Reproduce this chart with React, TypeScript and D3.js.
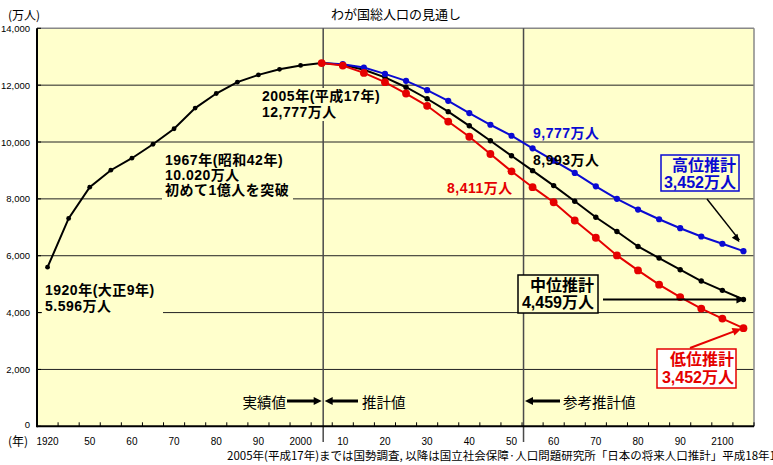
import React from "react";
import * as d3 from "d3";

// Census years (1920, 1940, then every 5 years) followed by projection years up to 2105
const years: string[] = [
  "1920", "1940", "1950", "1955", "1960", "1965", "1970", "1975", "1980", "1985",
  "1990", "1995", "2000", "2005", "2010", "2015", "2020", "2025", "2030", "2035",
  "2040", "2045", "2050", "2055", "2060", "2065", "2070", "2075", "2080", "2085",
  "2090", "2095", "2100", "2105",
];

// Census totals, 1920–2005 (万人)
const actual: number[] = [
  5596, 7311, 8412, 9008, 9430, 9921, 10467, 11194, 11706, 12105, 12361, 12557, 12693, 12777,
];

// Projections, 2005–2105 (万人)
const medium: number[] = [
  12777, 12718, 12543, 12274, 11927, 11522, 11068, 10570, 10044, 9515, 8993,
  8467, 7916, 7354, 6853, 6326, 5916, 5509, 5109, 4782, 4459,
];
const high: number[] = [
  12777, 12738, 12618, 12396, 12151, 11825, 11449, 11018, 10607, 10221, 9777,
  9344, 8912, 8442, 8000, 7625, 7284, 6968, 6677, 6421, 6161,
];
const low: number[] = [
  12777, 12690, 12431, 12105, 11706, 11274, 10720, 10186, 9579, 8969, 8411,
  7881, 7239, 6632, 6011, 5484, 4982, 4547, 4140, 3789, 3452,
];

const yTicks: number[] = [0, 2000, 4000, 6000, 8000, 10000, 12000, 14000];
const xTickYears: string[] = [
  "1920", "1950", "1960", "1970", "1980", "1990", "2000", "2010", "2020",
  "2030", "2040", "2050", "2060", "2070", "2080", "2090", "2100",
];
const xTickLabels: string[] = [
  "1920", "50", "60", "70", "80", "90", "2000", "10", "20",
  "30", "40", "50", "60", "70", "80", "90", "2100",
];

const W = 773;
const H = 465;
const PLOT_L = 37;
const PLOT_R = 754;
const PLOT_T = 28.3;
const PLOT_B = 426.3;

const BG = "#FFFFCC";
const BLUE = "#0A0AD2";
const RED = "#E50000";
const FONT = "'Liberation Sans', 'Noto Sans CJK JP', Arial, sans-serif";
const JFONT = "'Noto Sans CJK JP', 'Liberation Sans', sans-serif";

function head(tx: number, ty: number, fx: number, fy: number, len: number, half: number): string {
  const a = Math.atan2(ty - fy, tx - fx);
  const bx = tx - len * Math.cos(a);
  const by = ty - len * Math.sin(a);
  const px = -Math.sin(a) * half;
  const py = Math.cos(a) * half;
  return `${tx},${ty} ${bx + px},${by + py} ${bx - px},${by - py}`;
}

export default function App() {
  const x = d3.scalePoint<string>().domain(years).range([PLOT_L, PLOT_R]).padding(0.5);
  const y = d3.scaleLinear().domain([0, 14000]).range([PLOT_B, PLOT_T]);
  const step = x.step();
  const px = (k: string) => x(k) as number;

  const actualYears = years.slice(0, actual.length);
  const projYears = years.slice(actual.length - 1);

  const line = d3
    .line<[string, number]>()
    .x((d) => px(d[0]))
    .y((d) => y(d[1]));

  const zip = (ks: string[], vs: number[]) => ks.map((k, i) => [k, vs[i]] as [string, number]);
  const actualPts = zip(actualYears, actual);
  const medPts = zip(projYears, medium);
  const highPts = zip(projYears, high);
  const lowPts = zip(projYears, low);

  const vLine1 = px("2005") + 1.5;
  const vLine2 = px("2055") - step / 2 + 1.5;

  const lastYear = years[years.length - 1];
  const endX = px(lastYear);

  const boundaries = d3.range(years.length + 1).map((i) => PLOT_L + i * step);

  const annot = { fontFamily: FONT, fontWeight: 700, fontSize: 14, letterSpacing: 0.5 } as const;
  const boxText = { fontFamily: FONT, fontWeight: 700, fontSize: 16 } as const;

  return (
    <svg width={W} height={H} style={{ position: "absolute", left: 0, top: 0, background: "#fff" }}>
      {/* plot background */}
      <rect x={PLOT_L} y={PLOT_T} width={PLOT_R - PLOT_L} height={PLOT_B - PLOT_T} fill={BG} />

      {/* horizontal gridlines */}
      {yTicks.filter((t) => t > 0 && t < 14000).map((t) => (
        <line key={t} x1={PLOT_L} x2={PLOT_R} y1={y(t)} y2={y(t)} stroke="#222" strokeWidth={1} />
      ))}

      {/* top / right frame */}
      <line x1={PLOT_L} x2={PLOT_R} y1={PLOT_T} y2={PLOT_T} stroke="#888" strokeWidth={1.5} />
      <line x1={PLOT_R} x2={PLOT_R} y1={PLOT_T} y2={PLOT_B} stroke="#888" strokeWidth={1.5} />

      {/* period separators */}
      <line x1={vLine1} x2={vLine1} y1={PLOT_T} y2={442} stroke="#4a4a4a" strokeWidth={1.5} />
      <line x1={vLine2} x2={vLine2} y1={PLOT_T} y2={442} stroke="#4a4a4a" strokeWidth={1.5} />

      {/* y axis ticks & labels */}
      {yTicks.map((t) => (
        <g key={t}>
          <line x1={PLOT_L} x2={PLOT_L + 4} y1={y(t)} y2={y(t)} stroke="#000" strokeWidth={1} />
          <text x={30} y={t === 0 ? y(t) - 2 : y(t)} textAnchor="end" dominantBaseline="central" fontFamily={FONT} fontSize={9.5} fill="#000">
            {d3.format(",")(t)}
          </text>
        </g>
      ))}

      {/* x axis ticks & labels */}
      {boundaries.map((bx, i) => (
        <line key={i} x1={bx} x2={bx} y1={PLOT_B} y2={PLOT_B - 4} stroke="#000" strokeWidth={1} />
      ))}
      {xTickYears.map((k, i) => (
        <text key={k + i} x={px(k)} y={441} textAnchor="middle" dominantBaseline="central" fontFamily={FONT} fontSize={10} fill="#000">
          {xTickLabels[i]}
        </text>
      ))}

      {/* axes */}
      <line x1={PLOT_L} x2={PLOT_L} y1={PLOT_T} y2={PLOT_B + 1} stroke="#000" strokeWidth={2} />
      <line x1={PLOT_L} x2={PLOT_R} y1={PLOT_B} y2={PLOT_B} stroke="#000" strokeWidth={2} />

      <text x={8} y={14} fontFamily={JFONT} fontSize={12} dominantBaseline="central" fill="#000">(万人)</text>
      <text x={8} y={440} fontFamily={JFONT} fontSize={12} dominantBaseline="central" fill="#000">(年)</text>
      <text x={396} y={13} textAnchor="middle" dominantBaseline="central" fontFamily={JFONT} fontSize={13} fill="#000">
        わが国総人口の見通し
      </text>

      {/* annotation backgrounds */}
      <rect x={42} y={279} width={121} height={37} fill={BG} />
      <rect x={162} y={150} width={131} height={51} fill={BG} />
      <rect x={260} y={88} width={122} height={33} fill={BG} />

      {/* series */}
      <path d={line(actualPts) ?? ""} fill="none" stroke="#000" strokeWidth={2} />
      {actualPts.map((d) => (
        <circle key={"a" + d[0]} cx={px(d[0])} cy={y(d[1])} r={2.4} fill="#000" />
      ))}
      <path d={line(medPts) ?? ""} fill="none" stroke="#000" strokeWidth={2} />
      {medPts.map((d) => (
        <circle key={"m" + d[0]} cx={px(d[0])} cy={y(d[1])} r={2.7} fill="#000" />
      ))}
      <path d={line(highPts) ?? ""} fill="none" stroke={BLUE} strokeWidth={2} />
      {highPts.map((d) => (
        <circle key={"h" + d[0]} cx={px(d[0])} cy={y(d[1])} r={3.1} fill={BLUE} />
      ))}
      <path d={line(lowPts) ?? ""} fill="none" stroke={RED} strokeWidth={2} />
      {lowPts.map((d) => (
        <circle key={"l" + d[0]} cx={px(d[0])} cy={y(d[1])} r={3.9} fill={RED} />
      ))}

      {/* historical annotations */}
      <g {...annot} fill="#000">
        <text x={45} y={290} dominantBaseline="central">1920年(大正9年)</text>
        <text x={45} y={305.5} dominantBaseline="central">5.596万人</text>
        <text x={165} y={160} dominantBaseline="central">1967年(昭和42年)</text>
        <text x={165} y={175} dominantBaseline="central">10.020万人</text>
        <text x={165} y={190} dominantBaseline="central">初めて1億人を突破</text>
        <text x={262} y={96} dominantBaseline="central">2005年(平成17年)</text>
        <text x={262} y={112} dominantBaseline="central">12,777万人</text>
      </g>

      {/* 2055 value labels */}
      <text x={533} y={133} dominantBaseline="central" {...annot} fill={BLUE}>9,777万人</text>
      <text x={533} y={160} dominantBaseline="central" {...annot} fill="#000">8,993万人</text>
      <text x={447} y={188} dominantBaseline="central" {...annot} fill={RED}>8,411万人</text>

      {/* high projection callout */}
      <line x1={707} y1={199} x2={endX - 4} y2={y(high[high.length - 1]) - 11} stroke="#000" strokeWidth={1.5} />
      <polygon points={head(endX - 4, y(high[high.length - 1]) - 9, 707, 199, 8, 3.5)} fill="#000" />
      <rect x={661} y={155} width={78} height={36} fill={BG} stroke={BLUE} strokeWidth={1.5} />
      <text x={736} y={165.5} textAnchor="end" dominantBaseline="central" {...boxText} fill={BLUE}>高位推計</text>
      <text x={736} y={182} textAnchor="end" dominantBaseline="central" {...boxText} fill={BLUE}>3,452万人</text>

      {/* medium projection callout */}
      <line x1={603} y1={y(medium[medium.length - 1])} x2={endX - 4} y2={y(medium[medium.length - 1])} stroke="#000" strokeWidth={2} />
      <polygon points={head(endX + 1, y(medium[medium.length - 1]), 603, y(medium[medium.length - 1]), 8, 4)} fill="#000" />
      <rect x={518} y={275} width={80} height={38} fill={BG} stroke="#000" strokeWidth={1.5} />
      <text x={594} y={285} textAnchor="end" dominantBaseline="central" {...boxText} fill="#000">中位推計</text>
      <text x={594} y={302.7} textAnchor="end" dominantBaseline="central" {...boxText} fill="#000">4,459万人</text>

      {/* low projection callout */}
      <line x1={690} y1={348} x2={endX - 6} y2={y(low[low.length - 1]) + 2} stroke={RED} strokeWidth={2} />
      <polygon points={head(endX - 2, y(low[low.length - 1]) + 0.5, 690, 348, 9, 4)} fill={RED} />
      <rect x={657} y={349} width={79} height={39} fill="#fff" stroke={RED} strokeWidth={1.5} />
      <text x={734} y={359.5} textAnchor="end" dominantBaseline="central" {...boxText} fill={RED}>低位推計</text>
      <text x={734} y={377} textAnchor="end" dominantBaseline="central" {...boxText} fill={RED}>3,452万人</text>

      {/* period arrows */}
      <g fill="#000" stroke="none">
        <text x={286} y={401} textAnchor="end" dominantBaseline="central" fontFamily={JFONT} fontSize={14.5}>実績値</text>
        <line x1={287} x2={316} y1={401} y2={401} stroke="#000" strokeWidth={3} />
        <polygon points={head(vLine1 - 1.5, 401, 287, 401, 8, 4)} />
        <line x1={331} x2={358} y1={401} y2={401} stroke="#000" strokeWidth={3} />
        <polygon points={head(vLine1 + 1.5, 401, 358, 401, 8, 4)} />
        <text x={362} y={401} dominantBaseline="central" fontFamily={JFONT} fontSize={14.5}>推計値</text>
        <line x1={531} x2={560} y1={401} y2={401} stroke="#000" strokeWidth={3} />
        <polygon points={head(vLine2 + 1.5, 401, 560, 401, 8, 4)} />
        <text x={563} y={401} dominantBaseline="central" fontFamily={JFONT} fontSize={14.5}>参考推計値</text>
      </g>

      {/* source note */}
      <text x={227} y={455} dominantBaseline="central" fontFamily={JFONT} fontSize={11.5} fill="#000">
        2005年(平成17年)までは国勢調査, 以降は国立社会保障·人口問題研究所「日本の将来人口推計」平成18年12月推計
      </text>
    </svg>
  );
}
